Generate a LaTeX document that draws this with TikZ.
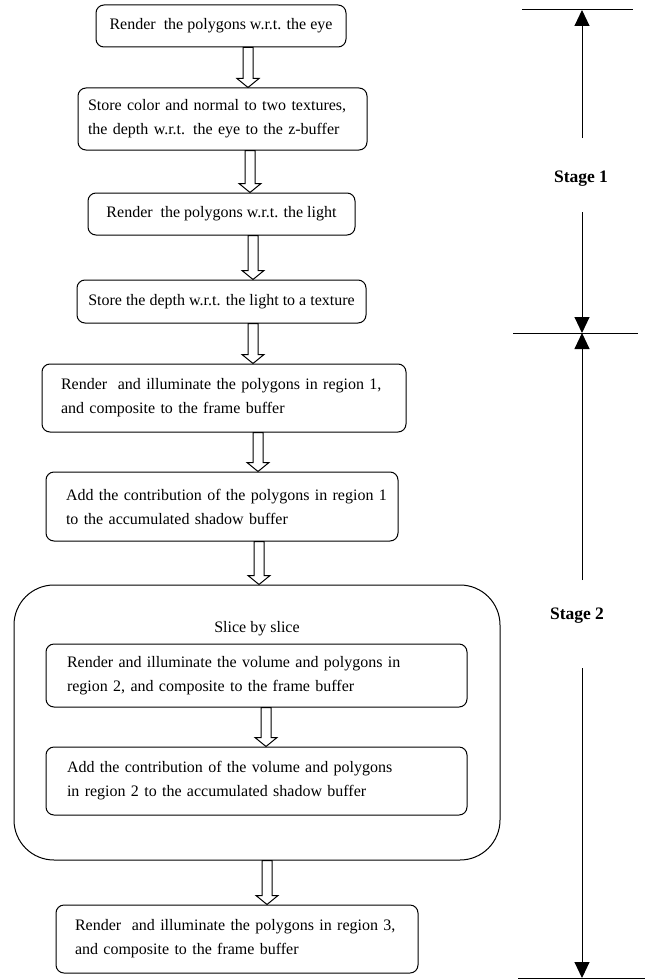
\documentclass[tikz,border=0pt]{standalone}
\usepackage{fontspec}
\setmainfont{Liberation Serif}
\usetikzlibrary{arrows.meta,calc}
\tikzset{
  stepbox/.style={draw, line width=1pt, rounded corners=8pt, inner sep=0pt,
    font=\fontsize{16}{24}\selectfont},
  hollow/.style={draw, line width=1pt, fill=white, line join=miter},
  stagelbl/.style={font=\fontsize{17.5}{20}\selectfont\bfseries, inner sep=0pt},
  tick/.style={line width=1pt},
  dimarrow/.style={line width=1pt, -{Triangle[length=16pt,width=15pt]}}
}
\newcommand{\harr}[3]{%
  \draw[hollow] let \p1=(#1.south), \p2=(#2.north) in
   (#3pt-5pt,\y1) -- (#3pt-5pt,\y2+9pt) -- (#3pt-11pt,\y2+9pt) -- (#3pt,\y2)
   -- (#3pt+11pt,\y2+9pt) -- (#3pt+5pt,\y2+9pt) -- (#3pt+5pt,\y1) -- cycle;}
\newcommand{\oneline}[1]{\mbox{#1}}
\begin{document}
\begin{tikzpicture}[x=1pt,y=-1pt]
\useasboundingbox (0,0) rectangle (645,979);

% main boxes
\node[stepbox, minimum width=250pt, minimum height=42pt, align=center]
  (b1) at (221,26) {Render~ the polygons w.r.t. the eye};
\node[stepbox, minimum width=289pt, minimum height=62pt, text width=269pt, align=left]
  (b2) at (222.5,119) {\oneline{Store color and normal to two textures,}\\\oneline{the depth w.r.t. the eye to the z-buffer}};
\node[stepbox, minimum width=267pt, minimum height=42pt, align=center]
  (b3) at (221.5,214) {Render~ the polygons w.r.t. the light};
\node[stepbox, minimum width=289pt, minimum height=43pt, align=center]
  (b4) at (221.5,301.5) {Store the depth w.r.t. the light to a texture};
\node[stepbox, minimum width=364pt, minimum height=68pt, text width=326pt, align=left]
  (b5) at (224,398) {\oneline{Render~ and illuminate the polygons in region 1,}\\\oneline{and composite to the frame buffer}};
\node[stepbox, minimum width=352pt, minimum height=69pt, text width=312pt, align=left]
  (b6) at (222,506.5) {\oneline{Add the contribution of the polygons in region 1}\\\oneline{to the accumulated shadow buffer}};

% big loop box
\node[stepbox, rounded corners=40pt, minimum width=486pt, minimum height=275pt]
  (big) at (257,722.5) {};
\node[font=\fontsize{16}{24}\selectfont, inner sep=0pt] (slice) at (257,629) {Slice by slice};
\node[stepbox, minimum width=421pt, minimum height=63pt, text width=379pt, align=left]
  (i1) at (256.5,675.5) {\oneline{Render and illuminate the volume and polygons in}\\\oneline{region 2, and composite to the frame buffer}};
\node[stepbox, minimum width=421pt, minimum height=68pt, text width=379pt, align=left]
  (i2) at (256.5,781) {\oneline{Add the contribution of the volume and polygons}\\\oneline{in region 2 to the accumulated shadow buffer}};

\node[stepbox, minimum width=362pt, minimum height=68pt, text width=324pt, align=left]
  (b7) at (237,939) {\oneline{Render~ and illuminate the polygons in region 3,}\\\oneline{and composite to the frame buffer}};

% hollow arrows
\harr{b1}{b2}{248}
\harr{b2}{b3}{250}
\harr{b3}{b4}{253}
\harr{b4}{b5}{253}
\harr{b5}{b6}{258}
\harr{b6}{big}{259}
\harr{i1}{i2}{266}
\harr{big}{b7}{267}

% stage markers
\coordinate (tL) at (522,10);  \coordinate (tR) at (633,10);
\coordinate (mL) at (513,333); \coordinate (mR) at (638,333);
\coordinate (bL) at (518,978); \coordinate (bR) at (645,978);
\coordinate (top) at (582,10);
\coordinate (mid) at (582,333);
\coordinate (bot) at (582,978);
\coordinate (s1a) at (582,138); \coordinate (s1b) at (582,212);
\coordinate (s2a) at (582,580); \coordinate (s2b) at (582,668);
\draw[tick] (tL) -- (tR);
\draw[tick] (mL) -- (mR);
\draw[tick] (bL) -- (bR);
\node[stagelbl] (st1) at (581,179) {Stage 1};
\node[stagelbl] (st2) at (577,616) {Stage 2};
\draw[dimarrow] (s1a) -- (top);
\draw[dimarrow] (s1b) -- (mid);
\draw[dimarrow] (s2a) -- (mid);
\draw[dimarrow] (s2b) -- (bot);
\end{tikzpicture}
\end{document}
